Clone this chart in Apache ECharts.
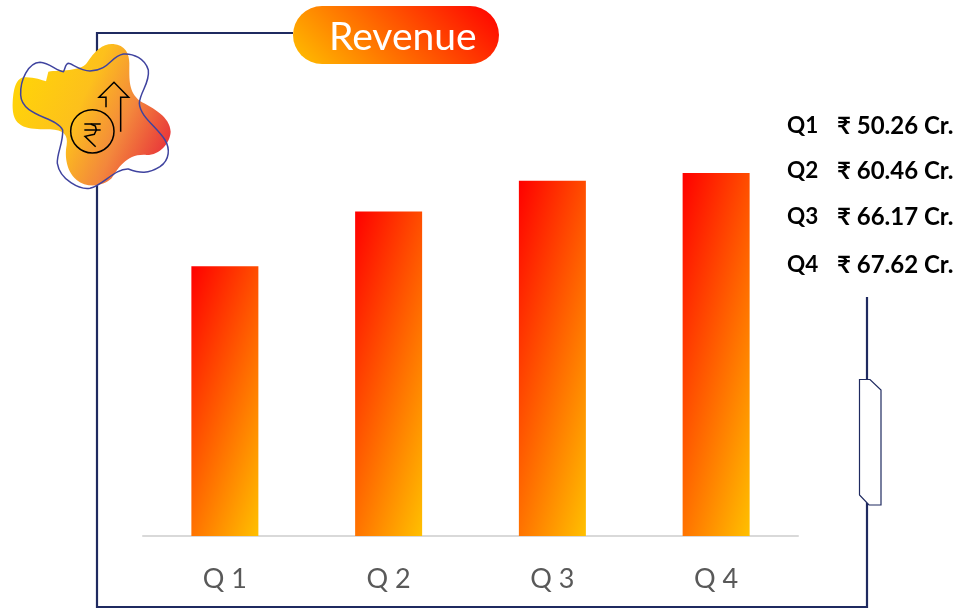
<!DOCTYPE html>
<html><head><meta charset="utf-8">
<style>html,body{margin:0;padding:0;background:#fff}#c{width:958px;height:609px}</style>
<script src="https://cdn.jsdelivr.net/npm/echarts@6/dist/echarts.min.js"></script>
</head><body><div id="c"></div>
<script>
const categories = ['Q 1','Q 2','Q 3','Q 4'];
const revenue = [50.26, 60.46, 66.17, 67.62];
const legendKeys = ['Q1','Q2','Q3','Q4'];
const legendY = [126,171,217,265];
const title = 'Revenue';
const font = 'Lato, "Noto Sans", "DejaVu Sans", sans-serif';
const navy = '#1f2a60';
const grad = (x,y,x2,y2,stops)=>new echarts.graphic.LinearGradient(x,y,x2,y2,stops);
// 45-degree gradient across a w x h box, in box fractions
const diag = (w,h,stops,up)=>{const d=(w+h)/4;return up
  ? grad(.5-d/w,.5+d/h,.5+d/w,.5-d/h,stops)
  : grad(.5-d/w,.5-d/h,.5+d/w,.5+d/h,stops);};
// gradient where p of the colour change runs across the width and the rest down the height
const barGrad = (w,h,p,stops)=>{const a=p/w,b=(1-p)/h,n=a*a+b*b;return grad(0,0,a/n/w,b/n/h,stops);};

echarts.graphic.registerShape('blob',echarts.graphic.extendPath('M70,172C100,170 125,180 138,184L145,155C180,150 240,155 260,130C285,90 310,70 340,72C375,75 388,100 388,130C388,180 385,215 420,243C460,265 510,290 512,335C510,370 480,405 440,405C380,400 355,445 335,475C310,500 260,505 230,480C195,450 195,400 200,375C205,345 190,330 150,328C95,328 40,330 38,265C38,215 45,178 70,172Z',{}));
echarts.graphic.registerShape('swirl',echarts.graphic.extendPath('M190,155C170,155 150,128 120,127C85,128 60,180 62,225C65,290 170,290 188,330C190,370 170,400 172,430C180,480 240,510 270,505C310,495 345,445 385,447C420,460 445,462 480,440C510,420 510,385 495,360C470,320 420,290 418,250C420,215 450,190 445,150C435,115 400,100 370,102C330,110 330,150 270,153C240,153 215,130 205,130C195,132 195,150 190,155Z',{}));

const chart = echarts.init(document.getElementById('c'),null,{renderer:'canvas'});
const ink = {fill:null,stroke:'#000',lineWidth:4.5};
const graphics = [
 {type:'polyline',z:1,shape:{points:[[293,33],[97,33],[97,607],[867,607],[867,297]]},style:{fill:null,stroke:navy,lineWidth:2.2}},
 {type:'polygon',z:2,shape:{points:[[859.5,379.5],[870,379.5],[881,390],[881,505],[869,505],[859.5,495]]},style:{fill:'#fff',stroke:navy,lineWidth:1.2}},
 {type:'rect',z:3,shape:{x:293,y:6,width:206,height:58,r:29},style:{fill:diag(206,58,[{offset:0,color:'#ffc000'},{offset:1,color:'#ff0000'}],true)}},
 {type:'text',z:4,x:329,y:37,style:{text:title,fill:'#fff',font:'39px '+font,textVerticalAlign:'middle'}},
 {type:'group',x:0,y:20,scaleX:1/3,scaleY:1/3,children:[
  {type:'blob',z:5,style:{fill:grad(0.08,0.25,1,0.72,[{offset:0,color:'#ffd20a'},{offset:.38,color:'#fdc01c'},{offset:.68,color:'#f3873c'},{offset:1,color:'#e8323a'}])}},
  {type:'swirl',z:6,style:{fill:null,stroke:'#3f439f',lineWidth:4.5}},
  {type:'circle',z:7,shape:{cx:277,cy:334,r:65},style:ink},
  {type:'polyline',z:7,shape:{points:[[318,262],[318,232],[297,232],[342,187],[386,232],[362,232],[362,335]]},style:ink},
  {type:'polyline',z:7,shape:{points:[[253,312],[302,312]]},style:ink},
  {type:'polyline',z:7,shape:{points:[[253,330],[302,330]]},style:ink},
  {type:'polyline',z:7,shape:{points:[[272,312],[286,318],[289,330],[283,343],[255,349],[287,380]]},style:ink}
 ]}
];
revenue.forEach((v,i)=>{
 graphics.push({type:'text',z:8,x:787,y:legendY[i],style:{text:legendKeys[i],fill:'#000',font:'bold 22.5px '+font,textVerticalAlign:'middle'}});
 graphics.push({type:'text',z:8,x:837,y:legendY[i],style:{text:'₹ '+v.toFixed(2)+' Cr.',fill:'#000',font:'bold 24px '+font,textVerticalAlign:'middle'}});
});
const gridH = 375.8, yMax = 70, barW = 67;
chart.setOption({
 animation:false,
 backgroundColor:'#fff',
 grid:{left:143,top:160.2,width:655,height:gridH,containLabel:false},
 xAxis:{type:'category',data:categories,axisLine:{lineStyle:{color:'#d9d9d9',width:2}},axisTick:{show:false},
   axisLabel:{color:'#595959',fontSize:27,fontFamily:font,margin:30}},
 yAxis:{type:'value',min:0,max:yMax,show:false,splitLine:{show:false}},
 series:[{type:'bar',barWidth:barW,data:revenue.map(v=>({value:v,itemStyle:{color:barGrad(barW,v/yMax*gridH,.4,[{offset:0,color:'#ff0000'},{offset:1,color:'#ffc000'}])}}))}],
 graphic:{elements:graphics}
});
</script></body></html>
